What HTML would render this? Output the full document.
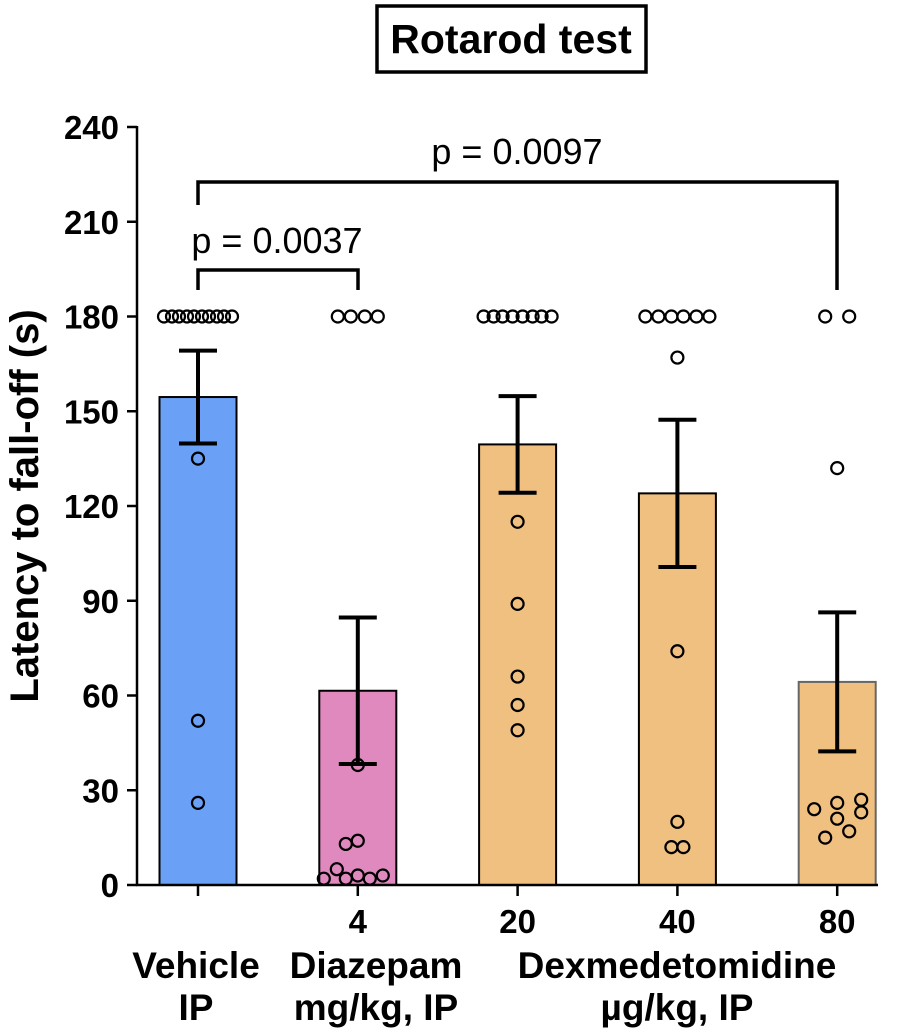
<!DOCTYPE html>
<html><head><meta charset="utf-8"><style>
body{margin:0;background:#fff;}
svg{display:block;font-family:"Liberation Sans",Arial,sans-serif;}
</style></head><body>
<svg id="chart" width="901" height="1032" viewBox="0 0 901 1032">
<g>
<rect x="377" y="6" width="269" height="66" fill="#fff" stroke="#000" stroke-width="3.5"/>
<text x="511" y="53" text-anchor="middle" font-size="41" font-weight="bold">Rotarod test</text>
</g>
<text transform="translate(38,506) rotate(-90)" text-anchor="middle" font-size="40" font-weight="bold">Latency to fall-off (s)</text>
<g id="yaxis"></g>
<g id="bars"></g>
<g id="dots"></g>
<g id="xaxis"></g>
<g fill="none" stroke="#000" stroke-width="3.5">
<path d="M198,290 V270 H358 V290"/>
<path d="M198,205 V182 H837 V290"/>
</g>
<text x="277" y="253" text-anchor="middle" font-size="36">p = 0.0037</text>
<text x="517" y="164" text-anchor="middle" font-size="36">p = 0.0097</text>
<g font-size="37" font-weight="bold" text-anchor="middle">
<text x="196" y="978">Vehicle</text><text x="196" y="1020">IP</text>
<text x="376" y="978">Diazepam</text><text x="376" y="1020">mg/kg, IP</text>
<text x="677" y="978">Dexmedetomidine</text><text x="677" y="1020">µg/kg, IP</text>
</g>
</svg>
<script>
const categories=["Vehicle","4","20","40","80"];
const means=[154.5,61.5,139.5,124,64.3];
const sems=[14.7,23.2,15.3,23.3,22];
const colors=["#6aa0f5","#e089bf","#f0c080","#f0c080","#f0c080"];
const doseLabels=["","4","20","40","80"];
const yTicks=[0,30,60,90,120,150,180,210,240];
const pts0=[180,180,180,180,180,180,180,180,180,180,135,52,26];
const jit0=[-34,-26,-19,-11,-4,4,11,19,26,34,0,0,0];
const pts1=[180,180,180,180,38,13,14,5,2,2,3,2,3];
const jit1=[-20,-7,7,20,0,-12,0,-21,-34,-12,0,12,25];
const pts2=[180,180,180,180,180,180,180,180,115,89,66,57,49];
const jit2=[-34,-24,-15,-5,5,15,24,34,0,0,0,0,0];
const pts3=[180,180,180,180,180,180,167,74,20,12,12];
const jit3=[-32,-19,-6,6,19,32,0,0,0,-6,6];
const pts4=[180,180,132,27,26,24,23,21,17,15];
const jit4=[-12,12,0,24,0,-23,24,0,12,-12];
const points=[pts0,pts1,pts2,pts3,pts4];
const jitters=[jit0,jit1,jit2,jit3,jit4];
const NS="http://www.w3.org/2000/svg";
const y=v=>885-v*(758/240);
const x=i=>198+i*159.8;
function mk(tag,attrs,parent){const e=document.createElementNS(NS,tag);for(const k in attrs)e.setAttribute(k,attrs[k]);parent.appendChild(e);return e;}
const ya=document.getElementById('yaxis');
const ln=mk('line',{x1:137,x2:137,y1:126,y2:886,stroke:'#000','stroke-width':2.5},ya);


yTicks.forEach(t=>{
 const tk=mk('line',{x1:127,x2:137,y1:y(t),y2:y(t),stroke:'#000','stroke-width':2.5},ya);
 
 
 const tx=mk('text',{x:119,y:y(t)+12,'text-anchor':'end','font-size':33,'font-weight':'bold'},ya);
 tx.textContent=t;
 
 
});
const xa=document.getElementById('xaxis');
const xl=mk('line',{x1:136,x2:878,y1:885,y2:885,stroke:'#000','stroke-width':2.5},xa);


const bg=document.getElementById('bars'),dg=document.getElementById('dots');
categories.forEach((c,i)=>{
 const b=mk('rect',{x:x(i)-38.5,y:y(means[i]),width:77,height:885-y(means[i]),fill:colors[i],stroke:i==4?'#666':'#000','stroke-width':2},bg);
 
 
 const tk=mk('line',{x1:x(i),x2:x(i),y1:885,y2:896,stroke:'#000','stroke-width':2.5},xa);
 
 
 if(doseLabels[i]){const t=mk('text',{x:x(i),y:933,'text-anchor':'middle','font-size':33,'font-weight':'bold'},xa);t.textContent=doseLabels[i];
 
 }
 points[i].forEach((v,j)=>{
  const d=mk('circle',{cx:x(i)+jitters[i][j],cy:y(v),r:6,fill:'none',stroke:'#000','stroke-width':2.2},dg);
  
  
 });
 const eb=mk('path',{d:`M${x(i)},${y(means[i]-sems[i])}V${y(means[i]+sems[i])}M${x(i)-19},${y(means[i]+sems[i])}H${x(i)+19}M${x(i)-19},${y(means[i]-sems[i])}H${x(i)+19}`,stroke:'#000','stroke-width':4,fill:'none'},dg);
 
 
});
</script>
</body></html>
